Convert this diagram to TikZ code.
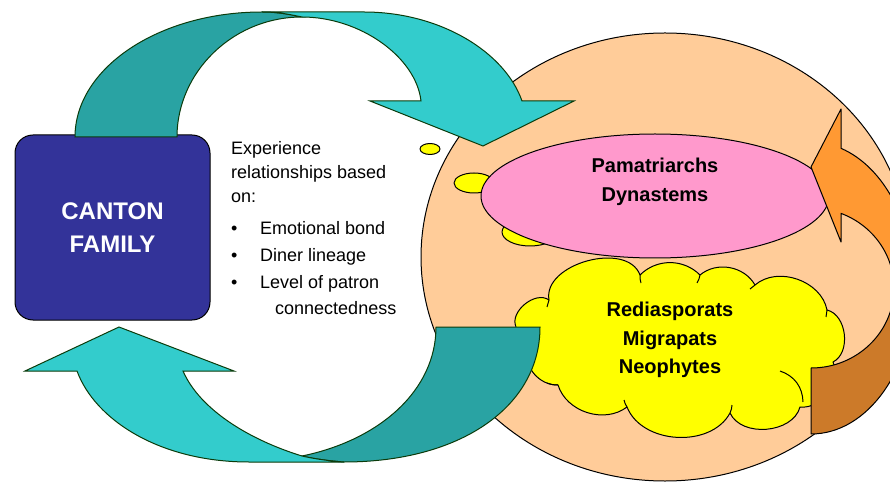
\documentclass[tikz,border=0pt]{standalone}
\usepackage{fontspec}
\setmainfont{Liberation Sans}
\definecolor{peach}{HTML}{FFCC99}
\definecolor{pinkfill}{HTML}{FF99CC}
\definecolor{yel}{HTML}{FFFF00}
\definecolor{boxblue}{HTML}{333399}
\definecolor{tealL}{HTML}{33CCCC}
\definecolor{tealD}{HTML}{29A3A3}
\definecolor{tealO}{HTML}{0B3B0B}
\definecolor{orL}{HTML}{FF9933}
\definecolor{orD}{HTML}{CC7A29}
\begin{document}
\begin{tikzpicture}[x=1pt,y=1pt,
  outl/.style={draw=black,line width=1pt,line join=round},
  tealsty/.style={draw=tealO,line width=1pt,line join=miter},
  txt/.style={font=\fontsize{18}{22}\selectfont,inner sep=0pt,anchor=base west},
  bold20/.style={font=\bfseries\fontsize{20}{29}\selectfont,align=center,inner sep=0pt}]
\clip (0,0) rectangle (890,482);
% big peach ellipse
\draw[outl,fill=peach] (665,225) ellipse [x radius=244pt, y radius=224pt];
% thought bubbles
\draw[outl,fill=yel] (430,333) ellipse [x radius=10pt, y radius=5.5pt];
\draw[outl,fill=yel] (474,299) ellipse [x radius=20pt, y radius=10pt];
\draw[outl,fill=yel] (530,250) ellipse [x radius=28pt, y radius=14pt];
% pink ellipse
\draw[outl,fill=pinkfill] (655,286) ellipse [x radius=174pt, y radius=62pt];
\node[bold20] (pam) at (655,300) {Pamatriarchs\\Dynastems};
% cloud
\draw[outl,fill=yel] (549,182) to[bend left=85] (640,207) to[bend left=45] (700,207)
  to[bend left=50] (755,197) to[bend left=60] (827,172) to[bend left=70] (833,120)
  to[bend left=60] (800,75) to[bend left=70] (730,69) to[bend left=65] (627,75)
  to[bend left=55] (558,97) to[bend left=50] (527,132) to[bend left=50] (516,155)
  to[bend left=75] cycle;
\draw[outl] (549,182) to[bend left=10] (547,175);
\draw[outl] (640,207) to[bend right=10] (641,199);
\draw[outl] (700,207) to[bend left=10] (697,199);
\draw[outl] (755,197) to[bend left=10] (750,193);
\draw[outl] (827,172) to[bend right=10] (826,165);
\draw[outl] (780,111) to[bend left=35] (803,80);
\draw[outl] (730,69) to[bend right=10] (732,77);
\draw[outl] (627,75) to[bend left=10] (624,82);
\draw[outl] (558,97) to[bend left=10] (547,99);
\node[bold20,font=\bfseries\fontsize{20}{28.5}\selectfont] (red) at (670,142) {Rediasporats\\Migrapats\\Neophytes};
% blue box
\node[outl,fill=boxblue,rounded corners=18pt,minimum width=195pt,minimum height=185pt,
  text=white,font=\bfseries\fontsize{24}{33}\selectfont,align=center,inner sep=0pt]
  (canton) at (112.5,254.5) {CANTON\\FAMILY};
% top teal arrow
\draw[tealsty,fill=tealD] (75,345) .. controls (75,414) and (159,470) .. (262,470)
  .. controls (280,470) and (292,467) .. (302,465)
  .. controls (233,465) and (177,410) .. (177,345) -- cycle;
\draw[tealsty,fill=tealL] (262,470) -- (364,470) .. controls (440,470) and (505,430) .. (522,381)
  -- (574,381) -- (483,336) -- (370,381) -- (421,381)
  .. controls (416,425) and (360,465) .. (302,465)
  .. controls (292,467) and (280,470) .. (262,470) -- cycle;
% bottom teal arrow
\draw[tealsty,fill=tealD] (436,155) -- (540,155) .. controls (540,75) and (460,20) .. (344,20)
  .. controls (330,21) and (315,23) .. (302,26)
  .. controls (380,42) and (436,92) .. (436,155) -- cycle;
\draw[tealsty,fill=tealL] (77,111) .. controls (95,62) and (160,20) .. (249,20) -- (344,20)
  .. controls (330,21) and (315,23) .. (302,26)
  .. controls (250,42) and (200,72) .. (183,111) -- (234,111) -- (119,155) -- (25,111) -- cycle;
% orange arrow
\draw[outl,fill=orD] (811,48) arc[start angle=-90,end angle=0,x radius=103pt,y radius=146pt]
  -- (894,194) arc[start angle=0,end angle=-90,x radius=83pt,y radius=80pt] -- cycle;
\draw[outl,fill=orL] (914,194) arc[start angle=0,end angle=73,x radius=103pt,y radius=146pt]
  -- (841,373) -- (811,315) -- (841,240) -- (841,268.6)
  arc[start angle=68.8,end angle=0,x radius=83pt,y radius=80pt] -- cycle;
% text block
\node[txt] (t1) at (231,327.5) {Experience};
\node[txt] (t2) at (231,303.5) {relationships based};
\node[txt] (t3) at (231,279.5) {on:};
\node[txt] (b1) at (231,247.5) {•};
\node[txt] (t4) at (260,247.5) {Emotional bond};
\node[txt] (b2) at (231,220.5) {•};
\node[txt] (t5) at (260,220.5) {Diner lineage};
\node[txt] (b3) at (231,193.5) {•};
\node[txt] (t6) at (260,193.5) {Level of patron};
\node[txt] (t7) at (275,167.5) {connectedness};
\end{tikzpicture}
\end{document}
